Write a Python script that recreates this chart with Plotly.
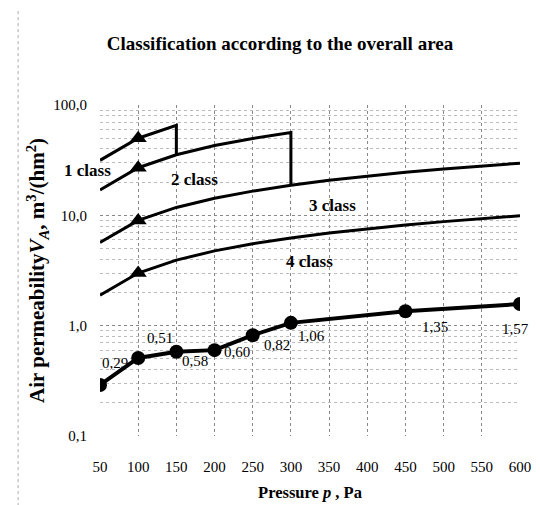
import math
import plotly.graph_objects as go

# ---- data ----
pressure = [50, 100, 150, 200, 250, 300, 350, 400, 450, 500, 550, 600]

class1_x = [50, 100, 150, 150]
class1_y = [31.5, 50.0, 65.5, 35.4]

class2_x = [50, 100, 150, 200, 250, 300, 300]
class2_y = [17.0, 27.0, 35.4, 42.9, 49.8, 56.2, 18.7]

class3_y = [5.67, 9.0, 11.79, 14.29, 16.58, 18.72, 20.75, 22.68, 24.52, 26.32, 28.04, 29.72]
class4_y = [1.89, 3.0, 3.93, 4.76, 5.53, 6.24, 6.92, 7.56, 8.17, 8.77, 9.35, 9.91]

ref_x = [100, 100, 100, 100]
ref_y = [50.0, 27.0, 9.0, 3.0]

meas_x = [50, 100, 150, 200, 250, 300, 450, 600]
meas_y = [0.29, 0.51, 0.58, 0.60, 0.82, 1.06, 1.35, 1.57]
meas_labels = ["0,29", "0,51", "0,58", "0,60", "0,82", "1,06", "1,35", "1,57"]

class_names = ["1 class", "2 class", "3 class", "4 class"]
class_label_x = [34, 174, 355, 324]
class_label_y = [25.4, 21.1, 12.2, 3.8]

y_tickvals = [0.1, 1, 10, 100]
y_ticktext = ["0,1", "1,0", "10,0", "100,0"]
x_tickvals = pressure
X_MIN, X_MAX = 50, 600

FONT = "Liberation Serif"

fig = go.Figure()
line_style = dict(color="black", width=3)
fig.add_trace(go.Scatter(x=class1_x, y=class1_y, mode="lines", line=line_style, showlegend=False))
fig.add_trace(go.Scatter(x=class2_x, y=class2_y, mode="lines", line=line_style, showlegend=False))
fig.add_trace(go.Scatter(x=pressure, y=class3_y, mode="lines", line=line_style, showlegend=False))
fig.add_trace(go.Scatter(x=pressure, y=class4_y, mode="lines", line=line_style, showlegend=False))
fig.add_trace(go.Scatter(x=ref_x, y=ref_y, mode="markers",
                         marker=dict(symbol="triangle-up", size=15, color="black"),
                         showlegend=False))
fig.add_trace(go.Scatter(x=meas_x, y=meas_y, mode="lines+markers",
                         line=dict(color="black", width=4),
                         marker=dict(symbol="circle", size=14, color="black"),
                         showlegend=False))

# data labels
label_shift = [(15, 22), (22, 20), (19, -9), (22, -2), (24, -10), (21, -13), (30, -16), (-5, -25)]
for x, y, t, (dx, dy) in zip(meas_x, meas_y, meas_labels, label_shift):
    fig.add_annotation(x=x, y=math.log10(y), text=t, showarrow=False, xshift=dx, yshift=dy,
                       xanchor="center", yanchor="middle",
                       font=dict(family=FONT, size=15, color="black"))

# class labels (the first one sits left of the plotting area, so it uses paper x)
for name, x, y in zip(class_names, class_label_x, class_label_y):
    common = dict(y=math.log10(y), yref="y", text="<b>" + name + "</b>", showarrow=False,
                  xanchor="center", yanchor="middle",
                  font=dict(family=FONT, size=17, color="black"))
    if x < X_MIN:
        fig.add_annotation(xref="paper", x=(x - X_MIN) / (X_MAX - X_MIN), **common)
    else:
        fig.add_annotation(xref="x", x=x, **common)

# scan-like left border
fig.add_shape(type="line", xref="paper", yref="paper", x0=-0.195, x1=-0.195, y0=-0.23, y1=1.29,
              line=dict(color="#aaaaaa", width=1, dash="dot"))

fig.update_layout(
    width=540, height=505,
    margin=dict(l=92, r=28, t=97, b=77, autoexpand=False),
    paper_bgcolor="white", plot_bgcolor="white",
    title=dict(text="<b>Classification according to the overall area</b>",
               x=272 / 540, xanchor="center", y=1 - 35 / 505, yanchor="middle",
               font=dict(family=FONT, size=19, color="black")),
    font=dict(family=FONT, color="black"),
)
fig.update_xaxes(range=[X_MIN, X_MAX], tickvals=x_tickvals, ticks="outside", ticklen=17,
                 tickcolor="rgba(0,0,0,0)", showline=False, automargin=False,
                 showgrid=True, gridcolor="#888888", gridwidth=1, griddash="dot",
                 zeroline=False, tickfont=dict(family=FONT, size=15),
                 title=dict(text="<b>Pressure <i>p</i> , Pa</b>", font=dict(family=FONT, size=16.5),
                            standoff=12))
fig.update_yaxes(type="log", range=[-1, 2], tickvals=y_tickvals, ticktext=y_ticktext,
                 ticks="outside", ticklen=9, tickcolor="rgba(0,0,0,0)", automargin=False,
                 showline=False, showgrid=True, gridcolor="#888888", gridwidth=1,
                 griddash="dot", zeroline=False,
                 minor=dict(showgrid=True, gridcolor="#bbbbbb", griddash="dot", dtick="D1"),
                 tickfont=dict(family=FONT, size=15),
                 title=dict(text="<b>Air permeability<i>V<sub>A</sub></i>, m<sup>3</sup>/(hm<sup>2</sup>)</b>",
                            font=dict(family=FONT, size=21), standoff=2))

fig.write_html("out.html")
